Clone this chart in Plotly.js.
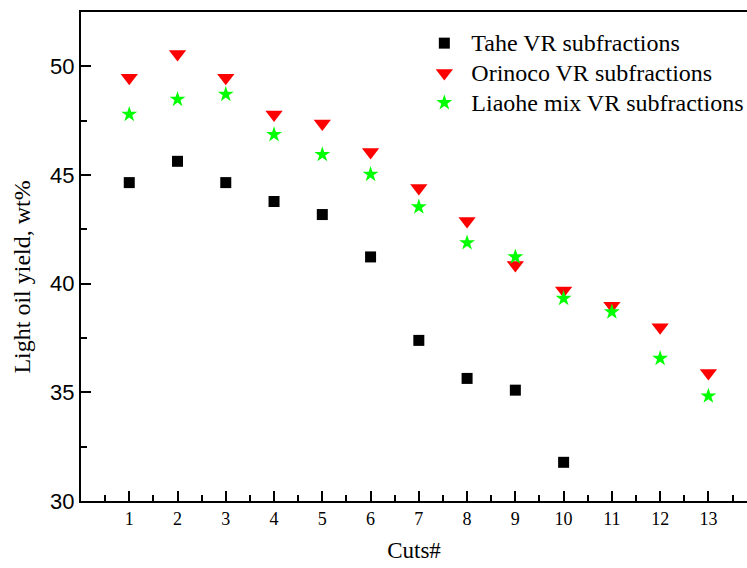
<!DOCTYPE html>
<html>
<head>
<meta charset="utf-8">
<script src="https://cdn.plot.ly/plotly-3.0.1.min.js"></script>
<style>
html,body{margin:0;padding:0;background:#fff;}
#chart{width:747px;height:568px;}
#chart .legend .legendtext{font-size:24px !important;}
#chart .legend .scrollbox{clip-path:none !important;}
</style>
</head>
<body>
<div id="chart"></div>
<script>
const cuts = [1,2,3,4,5,6,7,8,9,10,11,12,13];
const taheCuts = [1,2,3,4,5,6,7,8,9,10];
const taheYield = [44.65,45.63,44.65,43.78,43.18,41.23,37.39,35.64,35.10,31.78];
const orinocoYield = [49.47,50.57,49.47,47.78,47.37,46.06,44.40,42.88,40.86,39.68,38.98,38.00,35.89];
const liaoheYield = [47.79,48.48,48.71,46.86,45.94,45.03,43.53,41.88,41.23,39.32,38.70,36.56,34.83];
const seriesNames = ["Tahe VR subfractions","Orinoco VR subfractions","Liaohe mix VR subfractions"];
const xTickLabels = cuts.map(String);
const yTickVals = [30,35,40,45,50];
const xTitle = "Cuts#";
const yTitle = "Light oil yield, wt%";

const serif = "Liberation Serif, Times New Roman, serif";
const sans = "Liberation Sans, Arial, sans-serif";

const traces = [
  {x: taheCuts, y: taheYield, name: seriesNames[0], mode: "markers", type: "scatter",
   marker: {symbol: "square", size: 11, color: "#000000"}},
  {x: cuts, y: orinocoYield, name: seriesNames[1], mode: "markers", type: "scatter",
   marker: {symbol: "triangle-down", size: 15, color: "#ff0000"}},
  {x: cuts, y: liaoheYield, name: seriesNames[2], mode: "markers", type: "scatter",
   marker: {symbol: "star", size: 12, color: "#00ff00"}}
];

const layout = {
  width: 747, height: 568,
  margin: {l: 81, r: 0, t: 12, b: 67, pad: 0},
  paper_bgcolor: "#ffffff", plot_bgcolor: "#ffffff",
  showlegend: true,
  legend: {x: 0.505, y: 0.977, xanchor: "left", yanchor: "top", itemwidth: 44,
           font: {family: serif, size: 20.6, color: "#000"},
           bgcolor: "rgba(0,0,0,0)", borderwidth: 0, tracegroupgap: 0},
  xaxis: {
    range: [0, 13.8], showgrid: false, zeroline: false,
    showline: true, linecolor: "#000", linewidth: 2, mirror: true,
    tickvals: cuts, ticktext: xTickLabels,
    ticks: "inside", ticklen: 10, tickwidth: 2, tickcolor: "#000",
    minor: {dtick: 0.5, tick0: 0, ticks: "inside", ticklen: 6, tickwidth: 2, tickcolor: "#000", showgrid: false},
    tickfont: {family: serif, size: 18, color: "#000"},
    title: {text: xTitle, font: {family: serif, size: 23, color: "#000"}, standoff: 14}
  },
  yaxis: {
    range: [30, 52.5], showgrid: false, zeroline: false,
    showline: true, linecolor: "#000", linewidth: 2, mirror: false,
    tickvals: yTickVals,
    ticks: "inside", ticklen: 10, tickwidth: 2, tickcolor: "#000",
    minor: {dtick: 2.5, tick0: 30, ticks: "inside", ticklen: 6, tickwidth: 2, tickcolor: "#000", showgrid: false},
    tickfont: {family: sans, size: 22, color: "#000"}
  },
  annotations: [{
    text: yTitle, textangle: -90, xref: "paper", yref: "paper",
    x: -0.09, y: 0.457, xanchor: "center", yanchor: "middle", showarrow: false,
    font: {family: serif, size: 24, color: "#000"}
  }]
};

Plotly.newPlot("chart", traces, layout, {staticPlot: true, displayModeBar: false});
</script>
</body>
</html>
